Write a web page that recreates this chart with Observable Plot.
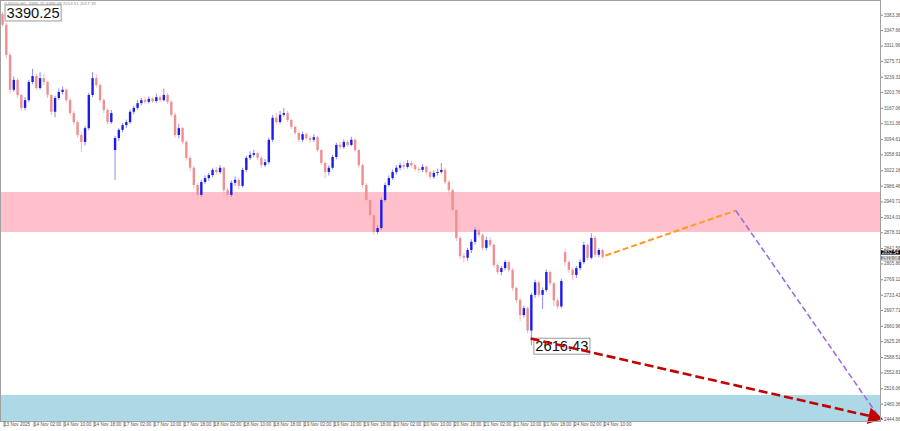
<!DOCTYPE html>
<html>
<head>
<meta charset="utf-8">
<script src="https://cdn.jsdelivr.net/npm/d3@7"></script>
<script src="https://cdn.jsdelivr.net/npm/@observablehq/plot@0.6"></script>
<style>
  html, body { margin: 0; padding: 0; background: #fff; }
</style>
</head>
<body>
<div id="chart"></div>
<script>
// ---- Data (hourly candles) ----
const openP = [
3385,3360,3290,3209,3232,3197,3167,3185,3227,3241,
3213,3236,3227,3197,3158,3190,3204,3209,3185,3155,
3134,3104,3088,3120,3197,3236,3220,3185,3162,3134,
3069,3097,3116,3127,3134,3158,3167,3178,3185,3181,
3188,3183,3192,3185,3197,3181,3151,3104,3120,3088,
3051,3028,2988,2965,2995,3004,3011,3023,3018,3028,
2976,2965,2993,3000,2986,3023,3051,3058,3062,3051,
3034,3041,3093,3144,3134,3151,3155,3139,3123,3109,
3093,3106,3097,3093,3099,3069,3039,3018,3028,3053,
3081,3076,3088,3081,3093,3069,3034,2988,2953,2918,
2879,2888,2953,2988,3004,3018,3028,3034,3030,3039,
3034,3025,3023,3030,3018,3007,3016,3018,3023,2995,
2976,2930,2865,2823,2819,2837,2856,2884,2872,2842,
2860,2849,2802,2786,2795,2809,2791,2749,2721,2686,
2702,2650,2733,2762,2733,2744,2786,2760,2720,2706,
2832,2809,2791,2779,2795,2809,2849,2819,2865,2826,
2837
];
const highP = [
3390.25,3365,3295,3240,3236,3200,3192,3232,3258,3246,
3250,3245,3230,3200,3195,3212,3216,3212,3190,3160,
3138,3110,3125,3202,3250,3245,3224,3190,3166,3162,
3102,3120,3132,3140,3163,3172,3185,3190,3192,3194,
3192,3200,3196,3212,3202,3185,3156,3130,3124,3092,
3056,3032,2992,3000,3010,3016,3028,3030,3034,3031,
2982,2998,3008,3005,3028,3056,3066,3070,3066,3055,
3048,3098,3150,3155,3160,3167,3160,3142,3126,3112,
3112,3110,3102,3106,3102,3072,3042,3034,3058,3086,
3088,3094,3092,3100,3096,3072,3038,2992,2958,2922,
2895,2958,2994,3010,3024,3034,3040,3042,3046,3044,
3038,3030,3036,3034,3022,3022,3026,3039,3028,3000,
2980,2935,2870,2830,2842,2862,2890,2890,2876,2868,
2867,2852,2806,2800,2814,2812,2795,2752,2726,2708,
2706,2738,2768,2766,2750,2792,2790,2764,2726,2770,
2840,2812,2795,2800,2815,2856,2852,2876,2870,2842,
2840
];
const lowP = [
3355,3282,3200,3204,3190,3160,3162,3180,3222,3208,
3210,3220,3190,3150,3145,3185,3198,3180,3150,3128,
3098,3064,3080,3115,3192,3214,3180,3155,3128,3130,
3000,3090,3110,3120,3130,3152,3162,3173,3176,3177,
3178,3179,3180,3182,3176,3146,3098,3096,3082,3045,
3020,2980,2953,2960,2990,2998,3006,3012,3014,2958,
2950,2960,2986,2978,2982,3018,3046,3052,3046,3028,
3030,3036,3088,3128,3130,3146,3134,3118,3104,3088,
3088,3092,3086,3088,3064,3034,3004,3010,3024,3048,
3070,3072,3076,3078,3064,3028,2982,2946,2910,2872,
2874,2884,2948,2984,3000,3012,3022,3024,3026,3028,
3020,3016,3018,3012,3002,3002,3010,3014,2990,2965,
2922,2858,2816,2808,2812,2830,2850,2866,2836,2836,
2844,2796,2780,2778,2790,2785,2742,2714,2672,2680,
2644,2616.43,2726,2728,2700,2740,2754,2706,2700,2702,
2800,2784,2768,2772,2790,2804,2812,2815,2820,2820,
2816
];
const closeP = [
3360,3290,3209,3232,3197,3167,3185,3227,3241,3213,
3236,3227,3197,3158,3190,3204,3209,3185,3155,3134,
3104,3088,3120,3197,3236,3220,3185,3162,3134,3155,
3097,3116,3127,3134,3158,3167,3178,3185,3181,3188,
3183,3192,3185,3197,3181,3151,3104,3120,3088,3051,
3028,2988,2965,2995,3004,3011,3023,3018,3028,2976,
2965,2993,3000,2986,3023,3051,3058,3062,3051,3034,
3041,3093,3144,3134,3151,3155,3139,3123,3109,3093,
3106,3097,3093,3099,3069,3039,3018,3028,3053,3081,
3076,3088,3081,3093,3069,3034,2988,2953,2918,2879,
2888,2953,2988,3004,3018,3028,3034,3030,3039,3034,
3025,3023,3030,3018,3007,3016,3018,3023,2995,2976,
2930,2865,2823,2819,2837,2856,2884,2872,2842,2860,
2849,2802,2786,2795,2809,2791,2749,2721,2686,2702,
2650,2733,2762,2733,2744,2786,2760,2720,2706,2765,
2809,2791,2779,2795,2809,2849,2819,2865,2826,2837,
2821
];

// zones (price ranges)
const zoneLo = [2878.9, 2440.0];
const zoneHi = [2971.7, 2500.4];
const zoneColor = ["#ffc0cb", "#add8e6"];

// projected paths: [barIndex, price]
const orangeFrom = [160.8, 2825.5], orangeTo = [195.5, 2929.9];
const purpleFrom = [195.5, 2929.9], purpleTo = [233.6, 2451.6];
const redFrom = [140.8, 2632.7], redTo = [234.1, 2447.0];

// extreme labels
const extremeBars = [0, 141];
const extremeValues = [3390.25, 2616.43];

// axis ticks
const xTickBars = [0,8,16,24,32,40,48,56,64,72,80,88,96,104,112,120,128,136,144,152,160];
const xTickLabels = ["13 Nov 2025","14 Nov 02:00","14 Nov 10:00","14 Nov 18:00","17 Nov 02:00","17 Nov 10:00","17 Nov 18:00","18 Nov 02:00","18 Nov 10:00","18 Nov 18:00","19 Nov 02:00","19 Nov 10:00","19 Nov 18:00","20 Nov 02:00","20 Nov 10:00","20 Nov 18:00","21 Nov 02:00","21 Nov 10:00","21 Nov 18:00","24 Nov 02:00","24 Nov 10:00"];
const yTickValues = [3383.36,3347.66,3311.96,3275.71,3239.31,3203.76,3167.06,3131.36,3094.61,3058.91,3022.16,2986.46,2949.71,2914.01,2878.31,2841.56,2805.86,2769.11,2733.41,2697.71,2660.96,2625.26,2588.51,2552.81,2516.06,2480.36,2444.66];

// current price tags on the axis
const tagValues = [2832.54, 2819.08];
const tagFill = ["#000000", "#8a8a8a"];

const headerText = "#US500,H1  3395.70 3399.68 2014.51 2017.33";

// ---- Build tables ----
const bars = closeP.map((c, i) => ({i, o: openP[i], h: highP[i], l: lowP[i], c}));
const zones = zoneLo.map((lo, k) => ({lo, hi: zoneHi[k], color: zoneColor[k]}));
const paths = [
  {x1: orangeFrom[0], y1: orangeFrom[1], x2: orangeTo[0], y2: orangeTo[1], color: "#ff9a1f", w: 2},
  {x1: purpleFrom[0], y1: purpleFrom[1], x2: purpleTo[0], y2: purpleTo[1], color: "#9b6fe0", w: 1.6},
  {x1: redFrom[0], y1: redFrom[1], x2: redTo[0], y2: redTo[1], color: "#c40000", w: 2.6}
];
const extremes = extremeBars.map((b, k) => ({b, v: extremeValues[k], label: extremeValues[k].toFixed(2)}));
const tags = tagValues.map((v, k) => ({v, label: v.toFixed(2), bg: tagFill[k]}));

const bullWick = "#8d8df2", bullBody = "#1c1ce8";
const bearWick = "#f6b8b8", bearBody = "#ef8f8f";
const up = d => d.c >= d.o;

const plot = Plot.plot({
  width: 900,
  height: 431,
  marginLeft: 0,
  marginRight: 20,
  marginTop: 0,
  marginBottom: 10,
  style: {fontFamily: "'Liberation Sans', Arial, sans-serif", background: "#fff", overflow: "visible"},
  x: {domain: [-0.55, 234.1], axis: null},
  y: {domain: [2440, 3417.5], axis: null},
  marks: [
    Plot.rect(zones, {y1: "lo", y2: "hi", fill: "color"}),
    Plot.ruleX(bars, {x: "i", y1: "l", y2: "h", stroke: d => up(d) ? bullWick : bearWick, strokeWidth: 1}),
    Plot.ruleX(bars, {x: "i", y1: "o", y2: "c", stroke: d => up(d) ? bullBody : bearBody, strokeWidth: 2.4}),
    Plot.text([headerText], {frameAnchor: "top-left", dx: 3, dy: 1.2, fontSize: 4.4, fill: "#8a8a8a", textAnchor: "start"}),
    Plot.text(extremes, {x: "b", y: "v", text: "label", textAnchor: "start", dx: 4, dy: 1, fontSize: 14.7, fill: "#111"}),
    Plot.link(paths.slice(0, 2), {x1: "x1", y1: "y1", x2: "x2", y2: "y2", stroke: "color", strokeWidth: "w", strokeDasharray: "6,3"}),
    Plot.link(paths.slice(2), {x1: "x1", y1: "y1", x2: "x2", y2: "y2", stroke: "color", strokeWidth: 2.6, strokeDasharray: "9,4"}),
    Plot.dot([redTo], {x: d => d[0], y: d => d[1], symbol: "triangle", r: 6.2, fill: "#c40000", rotate: 103, dx: -7, dy: -1.6}),
    Plot.frame({stroke: "#a0a0a0"}),
    Plot.axisY({ticks: yTickValues, anchor: "right", tickSize: 2, tickPadding: 1.5, fontSize: 4.6, fill: "#555", stroke: "#888", label: null, tickFormat: d => d.toFixed(2)}),
    Plot.axisX({ticks: xTickBars, anchor: "bottom", tickSize: 6, tickPadding: -5, fontSize: 4.6, fill: "#555", stroke: "#888", label: null, textAnchor: "start", dx: 1.5, tickFormat: d => xTickLabels[xTickBars.indexOf(d)]}),
    Plot.text(tags, {y: "v", text: "label", frameAnchor: "right", textAnchor: "start", dx: 1.5, fontSize: 4.6, fill: "#fff"})
  ]
});
document.getElementById("chart").appendChild(plot);

// boxes behind the text labels (found by their content)
function boxBehind(label, pad, fill, stroke) {
  d3.select(plot).selectAll("text").each(function() {
    if (this.textContent !== label) return;
    const b = this.getBBox();
    const r = document.createElementNS("http://www.w3.org/2000/svg", "rect");
    r.setAttribute("x", b.x - pad[0]);
    r.setAttribute("y", b.y - pad[1]);
    r.setAttribute("width", b.width + 2 * pad[0]);
    r.setAttribute("height", b.height + 2 * pad[1]);
    r.setAttribute("fill", fill);
    r.setAttribute("stroke", stroke);
    r.setAttribute("stroke-width", 1);
    const t = this.getAttribute("transform");
    if (t) r.setAttribute("transform", t);
    this.parentNode.insertBefore(r, this);
  });
}
extremes.forEach(e => boxBehind(e.label, [1.5, 0], "#fff", "#9a9a9a"));
tags.forEach(t => boxBehind(t.label, [1, -0.3], t.bg, "none"));
</script>
</body>
</html>
